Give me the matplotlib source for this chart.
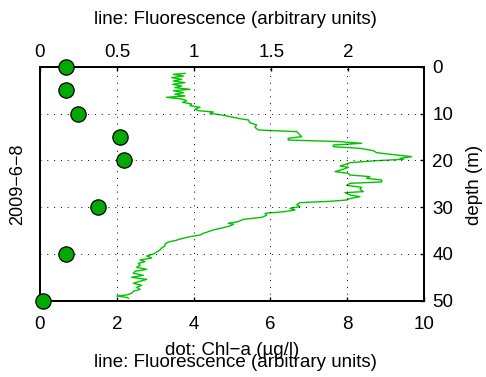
import matplotlib
matplotlib.use("Agg")
import matplotlib.pyplot as plt

# Chl-a samples (dots, bottom axis)
chl_depth = [0, 5, 10, 15, 20, 30, 40, 50]
chl_value = [0.69, 0.68, 0.99, 2.09, 2.20, 1.50, 0.68, 0.08]

# fluorescence profile (line, top axis)
fl_depth = [1.36, 1.57, 1.93, 2.28, 2.64, 3.00, 3.35, 3.71, 4.07, 4.42, 4.78, 5.07,
            5.49, 5.85, 6.21, 6.49, 6.85, 7.21, 7.56, 7.92, 8.28, 8.63, 8.99, 9.35,
            9.63, 9.92, 10.27, 10.63, 11.06, 11.34, 11.92, 12.41, 12.91, 13.48, 13.84,
            14.55, 14.91, 15.27, 15.63, 15.98, 16.34, 16.70, 17.05, 17.41, 17.91, 18.34,
            18.84, 19.19, 19.55, 19.76, 20.05, 20.48, 20.76, 21.19, 21.48, 21.90, 22.40,
            22.76, 23.12, 23.47, 23.83, 24.19, 24.61, 24.90, 25.33, 25.76, 26.18, 26.68,
            26.90, 27.40, 27.75, 28.18, 28.47, 28.75, 29.04, 29.47, 29.89, 30.25, 30.61,
            30.96, 31.32, 31.75, 32.18, 32.61, 33.10, 33.46, 33.68, 34.03, 34.39, 34.89,
            35.25, 35.60, 35.96, 36.32, 36.74, 37.17, 37.46, 37.88, 38.31, 38.74, 39.17,
            39.60, 40.03, 40.45, 40.88, 41.31, 41.67, 42.02, 42.45, 42.88, 43.31, 43.74,
            44.16, 44.59, 45.02, 45.45, 45.88, 46.30, 46.73, 47.16, 47.59, 48.02, 48.44,
            48.80, 49.02, 49.30, 49.51]
fl_value = [0.94, 0.865, 0.93, 0.854, 0.919, 0.865, 0.94, 0.86, 0.919, 0.875, 0.973, 0.865,
            0.93, 0.875, 0.94, 0.82, 0.919, 0.951, 0.925, 0.984, 0.973, 1.038, 1.005, 1.027,
            1.124, 1.102, 1.178, 1.232, 1.297, 1.351, 1.362, 1.405, 1.394, 1.416, 1.665,
            1.686, 1.697, 1.61, 1.61, 1.946, 2.086, 1.902, 1.902, 2.075, 2.162, 2.183,
            2.313, 2.41, 2.335, 2.356, 2.183, 2.01, 1.989, 1.946, 2.0, 1.967, 1.913,
            2.0, 2.01, 2.14, 2.118, 2.216, 2.216, 2.01, 1.989, 2.086, 2.075, 2.097,
            1.978, 2.01, 2.075, 2.01, 1.989, 1.881, 1.686, 1.665, 1.686, 1.621, 1.654,
            1.589, 1.459, 1.47, 1.438, 1.319, 1.286, 1.221, 1.254, 1.232, 1.189, 1.124,
            1.092, 1.059, 1.038, 0.973, 0.919, 0.875, 0.832, 0.811, 0.811, 0.789, 0.778,
            0.757, 0.735, 0.692, 0.724, 0.649, 0.681, 0.638, 0.649, 0.627, 0.692, 0.616,
            0.605, 0.670, 0.594, 0.692, 0.649, 0.605, 0.659, 0.627, 0.649, 0.605, 0.594,
            0.562, 0.497, 0.562, 0.573]

plt.rcParams['font.family'] = ['Liberation Sans', 'DejaVu Sans']

fig = plt.figure(figsize=(4.86, 3.77), dpi=100)
ax = fig.add_axes([0.0823, 0.2027, 0.79, 0.6196])
ax2 = ax.twiny()

grid_style = dict(color='black', linestyle=(0, (1, 6)), linewidth=0.7)

# top axis: fluorescence line
ax2.plot(fl_value, fl_depth, color='#00c400', linewidth=1.0)
ax2.set_xlim(0, 2.49)
ax2.set_xticks([0, 0.5, 1, 1.5, 2])
ax2.set_xticklabels(['0', '0.5', '1', '1.5', '2'])
ax2.tick_params(axis='x', direction='in', length=3, width=1, labelsize=13.5, pad=4)

# bottom axis: chl-a dots
ax.set_zorder(ax2.get_zorder() + 1)
ax.patch.set_visible(False)
ax.plot(chl_value, chl_depth, 'o', markersize=11, markerfacecolor='#00aa00',
        markeredgecolor='black', markeredgewidth=0.9, clip_on=False, zorder=5)
ax.set_xlim(0, 10)
ax.set_ylim(50, 0)
ax2.set_ylim(50, 0)
ax.set_xticks([0, 2, 4, 6, 8, 10])
ax.set_yticks([0, 10, 20, 30, 40, 50])
ax.yaxis.tick_right()
ax.tick_params(axis='both', direction='in', length=3, width=1, labelsize=13.5)
ax.tick_params(axis='x', pad=11)
ax.tick_params(axis='y', pad=6)
ax.grid(True, **grid_style)

for a in (ax, ax2):
    for s in a.spines.values():
        s.set_linewidth(1.3)
        s.set_color('black')

fig.text(0.4835, 0.948, 'line: Fluorescence (arbitrary units)', ha='center', va='center', fontsize=13.5)
fig.text(0.478, 0.0716, 'dot: Chl\u2212a (\u00b5g/l)', ha='center', va='center', fontsize=13.5)
fig.text(0.4835, 0.038, 'line: Fluorescence (arbitrary units)', ha='center', va='center', fontsize=13.5)
fig.text(0.036, 0.512, '2009\u22126\u22128', rotation=90, ha='center', va='center', fontsize=13)
fig.text(0.977, 0.51, 'depth (m)', rotation=90, ha='center', va='center', fontsize=13.5)

fig.savefig('out.png', dpi=100)
